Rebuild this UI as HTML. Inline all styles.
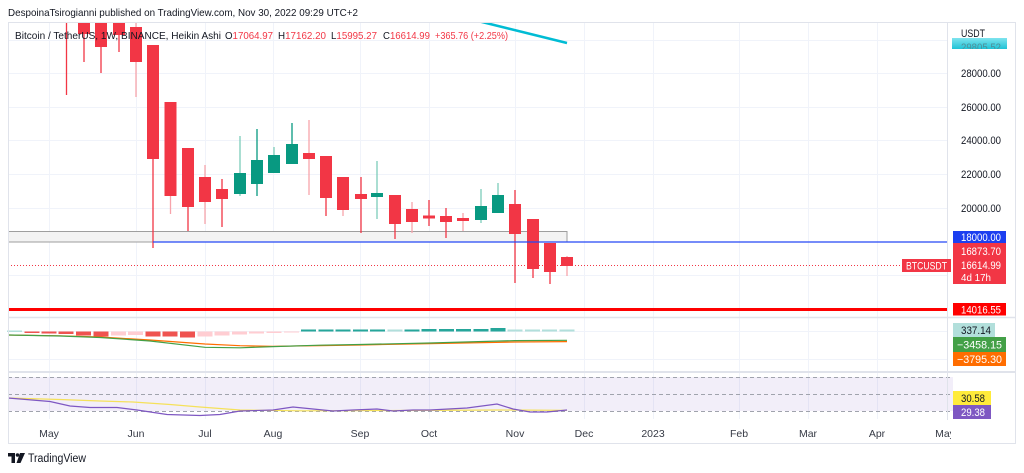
<!DOCTYPE html>
<html><head><meta charset="utf-8"><style>
html,body{margin:0;padding:0;background:#fff;}
svg{display:block;font-family:"Liberation Sans",sans-serif;}
</style></head><body>
<svg width="1024" height="473" viewBox="0 0 1024 473" xmlns="http://www.w3.org/2000/svg">
<defs>
<clipPath id="pp"><rect x="8" y="22" width="939" height="295"/></clipPath>
<clipPath id="ta"><rect x="8" y="420" width="943" height="23"/></clipPath>
<clipPath id="cl"><rect x="952" y="37" width="55" height="12"/></clipPath>
<linearGradient id="cy" x1="0" y1="0" x2="0" y2="1"><stop offset="0" stop-color="#7fe3ee"/><stop offset="1" stop-color="#1fc3d6"/></linearGradient>
</defs>
<rect width="1024" height="473" fill="#fff"/>
<text x="8" y="16" font-size="10.5" fill="#131722" textLength="350" lengthAdjust="spacingAndGlyphs">DespoinaTsirogianni published on TradingView.com, Nov 30, 2022 09:29 UTC+2</text>

<!-- vertical grid -->
<g stroke="#f0f3fa" stroke-width="1">
<line x1="49.5" y1="22" x2="49.5" y2="419"/><line x1="136.5" y1="22" x2="136.5" y2="419"/>
<line x1="205.5" y1="22" x2="205.5" y2="419"/><line x1="273.5" y1="22" x2="273.5" y2="419"/>
<line x1="360.5" y1="22" x2="360.5" y2="419"/><line x1="429.5" y1="22" x2="429.5" y2="419"/>
<line x1="515.5" y1="22" x2="515.5" y2="419"/><line x1="584.5" y1="22" x2="584.5" y2="419"/>
<line x1="653.5" y1="22" x2="653.5" y2="419"/><line x1="739.5" y1="22" x2="739.5" y2="419"/>
<line x1="808.5" y1="22" x2="808.5" y2="419"/><line x1="877.5" y1="22" x2="877.5" y2="419"/>
</g>
<!-- horizontal grid price -->
<g stroke="#f0f3fa" stroke-width="1">
<line x1="8" y1="40.5" x2="947" y2="40.5"/><line x1="8" y1="73.5" x2="947" y2="73.5"/>
<line x1="8" y1="107.5" x2="947" y2="107.5"/><line x1="8" y1="140.5" x2="947" y2="140.5"/>
<line x1="8" y1="174.5" x2="947" y2="174.5"/><line x1="8" y1="208.5" x2="947" y2="208.5"/>
<line x1="8" y1="275.5" x2="947" y2="275.5"/>
<line x1="8" y1="331.5" x2="947" y2="331.5"/><line x1="8" y1="359.5" x2="947" y2="359.5"/>
</g>

<g clip-path="url(#pp)">
<!-- gray box -->
<rect x="8" y="231.5" width="559" height="10.5" fill="#f3f3f3" stroke="#9e9e9e" stroke-width="1"/>
<!-- cyan line -->
<line x1="478" y1="21" x2="567" y2="43" stroke="#00bcd4" stroke-width="2.5"/>
<!-- candles -->
<g stroke-width="1.3">
<line x1="66.5" y1="22" x2="66.5" y2="95" stroke="#f23645"/>
<line x1="84" y1="22" x2="84" y2="62" stroke="#f23645"/><rect x="78" y="20" width="12" height="14" fill="#f23645"/>
<line x1="101" y1="22" x2="101" y2="73" stroke="#f23645"/><rect x="95" y="20" width="12" height="27" fill="#f23645"/>
<line x1="119" y1="22" x2="119" y2="52" stroke="#f23645"/><rect x="113" y="20" width="12" height="15" fill="#f23645"/>
<line x1="136" y1="22" x2="136" y2="97" stroke="#f7a3ab"/><rect x="130" y="27" width="12" height="35" fill="#f23645"/>
<line x1="153" y1="45" x2="153" y2="248" stroke="#f23645"/><rect x="147" y="45" width="12" height="114" fill="#f23645"/>
<line x1="170.5" y1="102" x2="170.5" y2="214" stroke="#f7a3ab"/><rect x="164.5" y="102" width="12" height="94" fill="#f23645"/>
<line x1="188" y1="148" x2="188" y2="231" stroke="#f23645"/><rect x="182" y="148" width="12" height="59" fill="#f23645"/>
<line x1="205" y1="165" x2="205" y2="224" stroke="#f7a3ab"/><rect x="199" y="177" width="12" height="25" fill="#f23645"/>
<line x1="222" y1="179" x2="222" y2="227" stroke="#f23645"/><rect x="216" y="189" width="12" height="10" fill="#f23645"/>
<line x1="240" y1="136" x2="240" y2="196" stroke="#7ccdb9"/><rect x="234" y="173" width="12" height="21" fill="#089981"/>
<line x1="257" y1="129" x2="257" y2="196" stroke="#089981"/><rect x="251" y="160" width="12" height="24" fill="#089981"/>
<line x1="274" y1="147" x2="274" y2="173" stroke="#7ccdb9"/><rect x="268" y="155" width="12" height="18" fill="#089981"/>
<line x1="292" y1="123" x2="292" y2="164" stroke="#089981"/><rect x="286" y="144" width="12" height="20" fill="#089981"/>
<line x1="309" y1="120" x2="309" y2="195" stroke="#f7a3ab"/><rect x="303" y="153" width="12" height="6" fill="#f23645"/>
<line x1="326" y1="156" x2="326" y2="216" stroke="#f23645"/><rect x="320" y="156" width="12" height="42" fill="#f23645"/>
<line x1="343" y1="177" x2="343" y2="216" stroke="#f7a3ab"/><rect x="337" y="177" width="12" height="33" fill="#f23645"/>
<line x1="361" y1="177" x2="361" y2="233" stroke="#f23645"/><rect x="355" y="194" width="12" height="5" fill="#f23645"/>
<line x1="377" y1="161" x2="377" y2="219" stroke="#7ccdb9"/><rect x="371" y="193" width="12" height="4" fill="#089981"/>
<line x1="395" y1="195" x2="395" y2="239" stroke="#f23645"/><rect x="389" y="195" width="12" height="29" fill="#f23645"/>
<line x1="412" y1="202" x2="412" y2="233" stroke="#f7a3ab"/><rect x="406" y="209" width="12" height="13" fill="#f23645"/>
<line x1="429" y1="200" x2="429" y2="226" stroke="#f23645"/><rect x="423" y="215.5" width="12" height="3" fill="#f23645"/>
<line x1="446" y1="208" x2="446" y2="238" stroke="#f23645"/><rect x="440" y="216" width="12" height="6" fill="#f23645"/>
<line x1="463" y1="213" x2="463" y2="231" stroke="#f7a3ab"/><rect x="457" y="218" width="12" height="3" fill="#f23645"/>
<line x1="481" y1="189" x2="481" y2="223" stroke="#7ccdb9"/><rect x="475" y="206" width="12" height="14" fill="#089981"/>
<line x1="498" y1="183" x2="498" y2="213" stroke="#7ccdb9"/><rect x="492" y="195" width="12" height="18" fill="#089981"/>
<line x1="515" y1="190" x2="515" y2="283" stroke="#f23645"/><rect x="509" y="204" width="12" height="30" fill="#f23645"/>
<line x1="533" y1="219" x2="533" y2="278" stroke="#f23645"/><rect x="527" y="219" width="12" height="50" fill="#f23645"/>
<line x1="550" y1="243" x2="550" y2="284" stroke="#f23645"/><rect x="544" y="243" width="12" height="29" fill="#f23645"/>
<line x1="567" y1="256" x2="567" y2="276" stroke="#f7a3ab"/><rect x="561" y="257" width="12" height="9" fill="#f23645"/>
</g>
<!-- lines -->
<line x1="153" y1="242" x2="947" y2="242" stroke="#2448f5" stroke-width="1.3"/>
<line x1="8" y1="265.5" x2="902" y2="265.5" stroke="#f23645" stroke-width="1" stroke-dasharray="1,2"/>
<line x1="8" y1="309.5" x2="947" y2="309.5" stroke="#ff0000" stroke-width="3"/>
</g>

<!-- legend -->
<g font-size="10.5">
<text x="15" y="39" fill="#131722" textLength="206" lengthAdjust="spacingAndGlyphs">Bitcoin / TetherUS, 1W, BINANCE, Heikin Ashi</text>
<text x="225" y="39" fill="#131722" textLength="48" lengthAdjust="spacingAndGlyphs">O<tspan fill="#f23645">17064.97</tspan></text>
<text x="278" y="39" fill="#131722" textLength="48" lengthAdjust="spacingAndGlyphs">H<tspan fill="#f23645">17162.20</tspan></text>
<text x="331" y="39" fill="#131722" textLength="46" lengthAdjust="spacingAndGlyphs">L<tspan fill="#f23645">15995.27</tspan></text>
<text x="383" y="39" fill="#131722" textLength="47" lengthAdjust="spacingAndGlyphs">C<tspan fill="#f23645">16614.99</tspan></text>
<text x="435" y="39" fill="#f23645" textLength="73" lengthAdjust="spacingAndGlyphs">+365.76 (+2.25%)</text>
</g>

<!-- MACD histogram -->
<g>
<rect x="7" y="330.5" width="15" height="1.5" fill="#b2dfdb"/>
<rect x="24.5" y="331.5" width="15" height="1.5" fill="#ef5350"/>
<rect x="41.5" y="331.5" width="15" height="2" fill="#ef5350"/>
<rect x="58.5" y="331.5" width="15" height="2.5" fill="#ef5350"/>
<rect x="76" y="331.5" width="15" height="4" fill="#ef5350"/>
<rect x="93.5" y="331.5" width="15" height="5" fill="#ef5350"/>
<rect x="111" y="331.5" width="15" height="4" fill="#ffcdd2"/>
<rect x="128" y="331.5" width="15" height="3.5" fill="#ffcdd2"/>
<rect x="145.5" y="331.5" width="15" height="5" fill="#ef5350"/>
<rect x="162.5" y="331.5" width="15" height="5" fill="#ef5350"/>
<rect x="180" y="331.5" width="15" height="6" fill="#ef5350"/>
<rect x="197.5" y="331.5" width="15" height="5" fill="#ffcdd2"/>
<rect x="214.5" y="331.5" width="15" height="4" fill="#ffcdd2"/>
<rect x="232" y="331.5" width="15" height="3" fill="#ffcdd2"/>
<rect x="249" y="331.5" width="15" height="2" fill="#ffcdd2"/>
<rect x="266.5" y="331.5" width="15" height="1.5" fill="#ffcdd2"/>
<rect x="284" y="331.5" width="15" height="1" fill="#ffcdd2"/>
<rect x="301" y="329.5" width="15" height="2" fill="#26a69a"/>
<rect x="318.5" y="329.5" width="15" height="2" fill="#26a69a"/>
<rect x="335.5" y="329.5" width="15" height="2" fill="#26a69a"/>
<rect x="353" y="329.5" width="15" height="2" fill="#26a69a"/>
<rect x="370" y="329.5" width="15" height="2" fill="#26a69a"/>
<rect x="387.5" y="329.5" width="15" height="2" fill="#b2dfdb"/>
<rect x="404.5" y="329.5" width="15" height="2" fill="#26a69a"/>
<rect x="421.5" y="329" width="15" height="2.5" fill="#26a69a"/>
<rect x="439" y="329" width="15" height="2.5" fill="#26a69a"/>
<rect x="456" y="329" width="15" height="2.5" fill="#26a69a"/>
<rect x="473.5" y="329" width="15" height="2.5" fill="#26a69a"/>
<rect x="490.5" y="328" width="15" height="3.5" fill="#26a69a"/>
<rect x="507.5" y="329.5" width="15" height="2" fill="#b2dfdb"/>
<rect x="525" y="329.5" width="15" height="2" fill="#b2dfdb"/>
<rect x="542" y="329.5" width="15" height="2" fill="#b2dfdb"/>
<rect x="559.5" y="329.5" width="15" height="2" fill="#b2dfdb"/>
</g>
<!-- MACD lines -->
<polyline fill="none" stroke="#ff6d00" stroke-width="1.2" points="8,335 60,335.8 100,337 150,340 205,344 240,345.7 273,346.3 320,345.6 360,345 430,343.6 515,342 567,341.6"/>
<polyline fill="none" stroke="#43a047" stroke-width="1.2" points="8,335 60,336 100,337.5 150,341 205,347.3 240,347.8 273,346.6 320,345.2 360,344.5 430,343 515,340.6 567,340.3"/>

<!-- RSI -->
<rect x="8" y="377" width="945" height="34" fill="#7e57c2" fill-opacity="0.1"/>
<g stroke="#a0a3ad" stroke-width="1" stroke-dasharray="4,3">
<line x1="8" y1="377.5" x2="953" y2="377.5"/>
<line x1="8" y1="394.5" x2="953" y2="394.5"/>
<line x1="8" y1="411.5" x2="953" y2="411.5"/>
</g>
<polyline fill="none" stroke="#f5e15a" stroke-width="1.2" points="8,398 60,399.5 100,401 133,402 170,404.5 200,407 240,410 300,410.8 400,410.5 500,410 567,410.3"/>
<polyline fill="none" stroke="#7e57c2" stroke-width="1.2" points="8,398 50,401.5 70,406 90,407.5 117,407.5 137,410 167,414.5 200,415.5 220,414.5 240,411 273,410 293,407 313,409 333,411 353,410 377,409 393,411 413,410 430,410 467,408 497,404 513,409 530,412 547,412 567,410"/>

<!-- frame & separators -->
<rect x="8.5" y="22.5" width="1007" height="421" fill="none" stroke="#e0e3eb" stroke-width="1"/>
<line x1="8" y1="317.5" x2="1015" y2="317.5" stroke="#e0e3eb" stroke-width="1.5"/>
<line x1="8" y1="372" x2="1015" y2="372" stroke="#e0e3eb" stroke-width="2"/>
<line x1="947.5" y1="22" x2="947.5" y2="420" stroke="#e0e3eb" stroke-width="1"/>

<!-- price axis -->
<g font-size="11" fill="#131722">
<text x="961" y="37" textLength="24" lengthAdjust="spacingAndGlyphs">USDT</text>
<text x="961" y="77" textLength="40" lengthAdjust="spacingAndGlyphs">28000.00</text>
<text x="961" y="111" textLength="40" lengthAdjust="spacingAndGlyphs">26000.00</text>
<text x="961" y="144" textLength="40" lengthAdjust="spacingAndGlyphs">24000.00</text>
<text x="961" y="178" textLength="40" lengthAdjust="spacingAndGlyphs">22000.00</text>
<text x="961" y="212" textLength="40" lengthAdjust="spacingAndGlyphs">20000.00</text>
</g>
<rect x="952" y="38" width="55" height="11" fill="url(#cy)"/>
<text x="961" y="51" font-size="11" fill="#4f8f99" textLength="40" lengthAdjust="spacingAndGlyphs" clip-path="url(#cl)">29805.52</text>

<g font-size="11" fill="#fff">
<rect x="953" y="231" width="53" height="12" fill="#1c3ff0"/>
<text x="961" y="241" textLength="40" lengthAdjust="spacingAndGlyphs">18000.00</text>
<rect x="953" y="243" width="53" height="41" fill="#f23645"/>
<text x="961" y="255" textLength="40" lengthAdjust="spacingAndGlyphs">16873.70</text>
<text x="961" y="269" textLength="40" lengthAdjust="spacingAndGlyphs">16614.99</text>
<text x="961" y="281" font-size="10.5" textLength="30" lengthAdjust="spacingAndGlyphs">4d 17h</text>
<rect x="902" y="259" width="49" height="13" fill="#f23645"/>
<text x="906" y="269.5" textLength="41" lengthAdjust="spacingAndGlyphs">BTCUSDT</text>
<rect x="953" y="303" width="53" height="12.5" fill="#ff0000"/>
<text x="961" y="313.5" textLength="40" lengthAdjust="spacingAndGlyphs">14016.55</text>

<rect x="953" y="323" width="42" height="14" fill="#b2dfdb"/>
<text x="961" y="334" fill="#131722" textLength="30" lengthAdjust="spacingAndGlyphs">337.14</text>
<rect x="953" y="337" width="53" height="15" fill="#43a047"/>
<text x="957" y="348.5" textLength="45" lengthAdjust="spacingAndGlyphs">−3458.15</text>
<rect x="953" y="352" width="53" height="14" fill="#ff6d00"/>
<text x="957" y="363" textLength="45" lengthAdjust="spacingAndGlyphs">−3795.30</text>

<rect x="953" y="391" width="38" height="14" fill="#ffeb3b"/>
<text x="961" y="402" fill="#131722" textLength="24" lengthAdjust="spacingAndGlyphs">30.58</text>
<rect x="953" y="405" width="38" height="14" fill="#7e57c2"/>
<text x="961" y="416" textLength="24" lengthAdjust="spacingAndGlyphs">29.38</text>
</g>

<!-- time axis -->
<g font-size="10.5" fill="#363a45" text-anchor="middle" clip-path="url(#ta)">
<text x="49" y="437">May</text><text x="136" y="437">Jun</text><text x="205" y="437">Jul</text>
<text x="273" y="437">Aug</text><text x="360" y="437">Sep</text><text x="429" y="437">Oct</text>
<text x="515" y="437">Nov</text><text x="584" y="437">Dec</text><text x="653" y="437">2023</text>
<text x="739" y="437">Feb</text><text x="808" y="437">Mar</text><text x="877" y="437">Apr</text>
<text x="945" y="437">May</text>
</g>

<!-- TradingView logo -->
<g fill="#131722">
<path d="M8 453 h7 v10 h-3.5 v-6.5 h-3.5 z"/>
<circle cx="17.5" cy="455" r="1.8"/>
<path d="M20 453 h5 l-4.5 10 h-4 z"/>
</g>
<text x="28" y="462" font-size="11.5" fill="#131722" textLength="58" lengthAdjust="spacingAndGlyphs">TradingView</text>
</svg>
</body></html>
